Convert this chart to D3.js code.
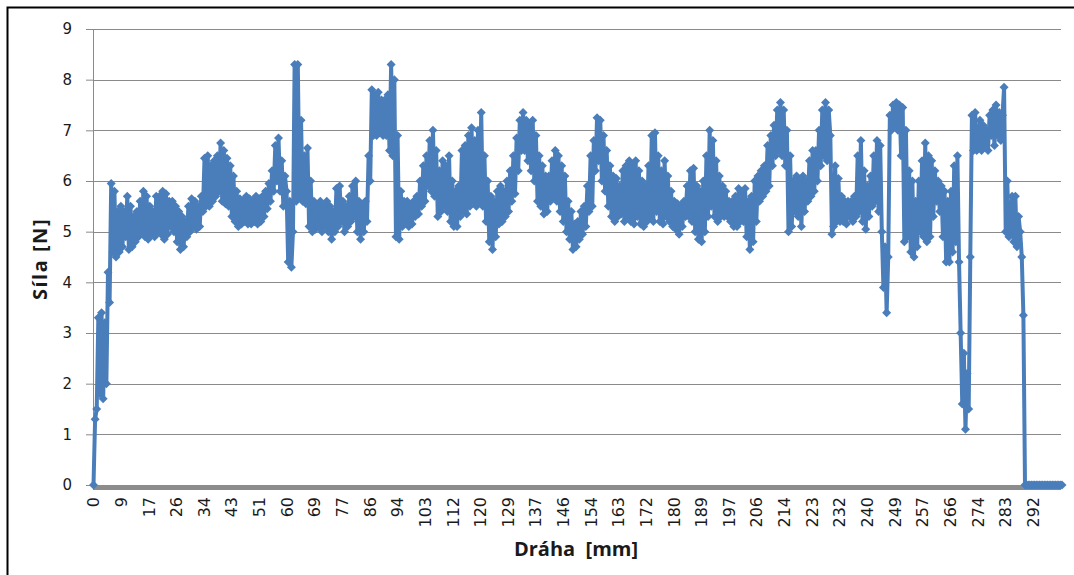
<!DOCTYPE html>
<html>
<head>
<meta charset="utf-8">
<script src="https://cdn.jsdelivr.net/npm/d3@7"></script>
<style>
  html, body { margin: 0; padding: 0; background: #fff; }
  svg { display: block; }
</style>
</head>
<body>
<svg id="chart" width="1074" height="575"></svg>
<script>
// ---- data ----
const step = 0.5;            // sampling distance [mm]
const xMax = 301;            // last sample [mm]
const yTicks = [0, 1, 2, 3, 4, 5, 6, 7, 8, 9];
const xTickLabels = ["0","9","17","26","34","43","51","60","69","77","86","94","103","112","120",
  "129","137","146","154","163","172","180","189","197","206","214","223","232","240","249",
  "257","266","274","283","292"];
const xTickLast = 292;
const force = [
  0,1.3, 1.5,3.3, 1.8,3.4, 1.7,3.2, 2.0,4.2, 3.6,5.95, 4.6,5.8, 4.5,5.4, 4.6,5.5, 4.7,5.4,
  4.9,5.7, 4.65,5.5, 4.7,5.3, 4.8,5.4, 4.9,5.6, 5.0,5.8, 4.9,5.7, 4.85,5.5, 4.95,5.4, 4.9,5.7,
  5.0,5.7, 4.95,5.8, 4.85,5.75, 4.95,5.6, 5.1,5.6, 5.0,5.5, 4.8,5.4, 4.65,5.3, 4.7,5.2, 4.9,5.5,
  5.0,5.65, 5.1,5.6, 5.05,5.5, 5.1,5.7, 5.4,6.45, 5.5,6.5, 5.5,6.3, 5.6,6.4, 5.7,6.5, 5.8,6.75,
  5.6,6.6, 5.55,6.45, 5.5,6.3, 5.3,6.1, 5.2,5.8, 5.1,5.65, 5.15,5.6, 5.2,5.7, 5.15,5.65, 5.15,5.6,
  5.2,5.7, 5.15,5.65, 5.2,5.7, 5.3,5.8, 5.45,5.95, 5.6,6.2, 5.8,6.7, 6.0,6.85, 5.8,6.4, 5.5,6.1,
  5.8,4.4, 5.6,4.3, 5.0,8.3, 5.6,8.3, 5.7,7.2, 5.6,6.5, 5.55,6.65, 5.1,6.0, 5.0,5.6, 5.05,5.5,
  5.1,5.6, 5.0,5.5, 5.1,5.6, 5.0,5.5, 4.85,5.4, 5.0,5.85, 5.1,5.9, 5.2,5.6, 5.0,5.5, 5.1,5.7,
  5.2,5.9, 5.3,6.0, 5.0,5.6, 4.85,5.5, 5.0,5.6, 5.2,6.5, 6.0,7.8, 6.9,7.7, 6.9,7.75, 6.95,7.6,
  6.9,7.6, 6.9,7.7, 6.6,8.3, 6.5,8.0, 4.9,6.9, 4.85,5.8, 5.1,5.6, 5.2,5.6, 5.1,5.5, 5.15,5.6,
  5.3,5.7, 5.35,6.0, 5.5,6.3, 5.6,6.5, 5.9,6.8, 5.8,7.0, 5.7,6.6, 5.3,6.2, 5.4,6.4, 5.5,6.3,
  5.4,6.5, 5.2,6.0, 5.1,5.8, 5.1,5.9, 5.3,6.6, 5.4,6.7, 5.35,6.9, 5.5,7.05, 5.6,6.8, 5.5,7.0,
  5.6,7.35, 5.5,6.5, 5.2,6.0, 4.8,5.7, 4.65,5.6, 4.9,5.8, 5.15,5.9, 5.2,5.8, 5.3,6.0, 5.4,6.2,
  5.6,6.5, 5.75,6.85, 6.2,7.2, 6.6,7.35, 6.6,7.2, 6.4,7.1, 6.2,7.2, 6.0,6.9, 5.6,6.5, 5.5,6.3,
  5.35,6.1, 5.4,6.1, 5.6,6.4, 5.7,6.6, 5.6,6.5, 5.4,6.3, 5.2,6.1, 5.0,5.6, 4.85,5.4, 4.65,5.15,
  4.7,5.2, 4.85,5.4, 4.95,5.5, 5.1,5.9, 5.4,6.5, 5.5,6.8, 6.2,7.25, 6.4,7.2, 6.0,6.9, 5.8,6.6,
  5.5,6.3, 5.3,6.1, 5.2,6.05, 5.3,5.9, 5.35,6.2, 5.2,6.3, 5.3,6.4, 5.2,6.3, 5.15,6.4, 5.3,6.2,
  5.15,6.0, 5.1,5.9, 5.2,6.3, 5.3,6.9, 5.2,6.95, 5.4,6.5, 5.2,6.2, 5.15,6.4, 5.3,6.1, 5.2,5.8,
  5.1,5.6, 5.05,5.55, 4.95,5.5, 5.1,5.6, 5.3,5.9, 5.3,6.2, 5.2,6.25, 5.0,5.9, 4.85,5.8, 4.8,6.0,
  5.0,6.5, 5.3,7.0, 5.5,6.8, 5.3,6.4, 5.2,6.1, 5.3,5.9, 5.3,5.8, 5.3,5.6, 5.2,5.6, 5.1,5.7,
  5.1,5.85, 5.2,5.8, 5.2,5.85, 4.9,5.6, 4.65,5.7, 4.8,6.0, 5.2,6.1, 5.6,6.2, 5.7,6.3, 5.8,6.7,
  5.9,6.9, 6.3,7.1, 6.5,7.4, 6.6,7.55, 6.5,7.4, 6.3,7.0, 5.0,6.5, 5.1,6.0, 5.4,6.1, 5.3,6.0,
  5.1,6.1, 5.4,6.0, 5.6,6.4, 5.7,6.6, 5.8,6.6, 6.0,7.0, 6.3,7.4, 6.5,7.55, 6.4,7.4, 6.9,4.95,
  5.1,6.3, 5.2,6.05, 5.2,5.7, 5.2,5.6, 5.15,5.6, 5.3,5.6, 5.2,5.7, 5.3,6.5, 5.4,6.8, 5.2,6.2,
  5.05,5.9, 5.3,6.1, 5.5,6.5, 5.6,6.8, 5.4,6.7, 5.0,3.9, 4.7,3.4, 4.5,7.3, 7.0,7.5, 7.1,7.55,
  7.0,7.5, 6.5,7.45, 4.8,7.0, 4.9,6.2, 4.6,6.0, 4.5,5.6, 4.7,6.0, 5.0,6.4, 4.9,6.75, 4.8,6.5,
  4.9,6.4, 5.3,6.2, 5.6,6.0, 5.4,5.9, 4.9,5.8, 4.4,5.6, 4.4,5.8, 4.6,6.3, 4.8,6.5, 4.4,3.0,
  1.6,2.6, 1.1,2.2, 1.5,4.5, 7.3,6.6, 7.35,6.6, 6.7,7.2, 6.6,7.1, 6.7,7.0, 6.6,7.3, 6.9,7.4,
  6.7,7.5, 6.9,7.35, 6.8,7.3, 7.85,5.0, 6.0,4.9, 5.0,5.7, 4.8,5.7, 4.7,5.3, 5.0,4.5, 3.35,0,
  0,0, 0,0, 0,0, 0,0, 0,0, 0,0, 0,0, 0,0, 0,0, 0,0,
  0,0, 0
];

// ---- layout ----
const svg = d3.select("#chart");
const plotL = 93, plotR = 1061, plotT = 29, plotB = 485;
const blue = "#4A7EBB", grid = "#8A8A8A";

const x = d3.scaleLinear().domain([0, xMax]).range([93.5, 1062]);
const y = d3.scaleLinear().domain([0, 9]).range([plotB, plotT]);

// outer frame (left and top edge)
svg.append("path").attr("d", "M7.5,575V7.5H1074")
  .attr("fill", "none").attr("stroke", "#000").attr("stroke-width", 2);

// y axis, ticks and labels
const yAxis = d3.axisLeft(y).tickValues(yTicks).tickSize(7).tickFormat(d3.format("d"));
const gy = svg.append("g").attr("transform", `translate(${plotL},0)`).call(yAxis);
gy.select(".domain").attr("stroke", grid).attr("stroke-width", 1)
  .attr("d", `M0.5,${plotT}V${plotB}`);
gy.selectAll(".tick line").attr("stroke", grid);
gy.selectAll(".tick text").attr("x", -21).attr("fill", "#1a1a1a")
  .style("font-family", "'DejaVu Sans', sans-serif").style("font-size", "15px");

// horizontal gridlines
svg.append("g").selectAll("line").data(yTicks.filter(d => d > 0)).join("line")
  .attr("x1", plotL).attr("x2", plotR)
  .attr("y1", d => Math.round(y(d)) + 0.5).attr("y2", d => Math.round(y(d)) + 0.5)
  .attr("stroke", grid).attr("stroke-width", 1);

// x axis: thick band formed by dense category tick marks
svg.append("rect").attr("x", plotL).attr("y", plotB).attr("width", plotR - plotL).attr("height", 5)
  .attr("fill", "#8C8C8C");

// x tick labels
const xTickVals = xTickLabels.map((_, i) => i * xTickLast / (xTickLabels.length - 1));
svg.append("g").selectAll("text").data(xTickVals).join("text")
  .attr("transform", d => `translate(${x(d)},497) rotate(-90)`)
  .attr("text-anchor", "end").attr("dy", "0.36em")
  .attr("fill", "#1a1a1a")
  .style("font-family", "'DejaVu Sans', sans-serif").style("font-size", "16px")
  .text((d, i) => xTickLabels[i]);

// axis titles
svg.append("text").attr("transform", "translate(47,259) rotate(-90)")
  .attr("text-anchor", "middle")
  .style("font-family", "'Open Sans', sans-serif").style("font-size", "20px").style("font-weight", "bold")
  .style("letter-spacing", "1.5px")
  .attr("fill", "#1a1a1a").text("Síla [N]");
svg.append("text").attr("x", 576).attr("y", 556).attr("text-anchor", "middle")
  .style("font-family", "'Open Sans', sans-serif").style("font-size", "20px").style("font-weight", "bold")
  .style("white-space", "pre").attr("fill", "#1a1a1a").text("Dráha  [mm]");

// series
const pts = force.map((v, i) => ({ d: i * step, f: v }));
const line = d3.line().x(p => x(p.d)).y(p => y(p.f));
svg.append("path").datum(pts).attr("d", line)
  .attr("fill", "none").attr("stroke", blue).attr("stroke-width", 4).attr("stroke-linejoin", "round");
svg.append("g").selectAll("path").data(pts).join("path")
  .attr("transform", p => `translate(${x(p.d)},${y(p.f)})`)
  .attr("d", "M0,-4.5L4.5,0L0,4.5L-4.5,0Z")
  .attr("fill", blue);
</script>
</body>
</html>
